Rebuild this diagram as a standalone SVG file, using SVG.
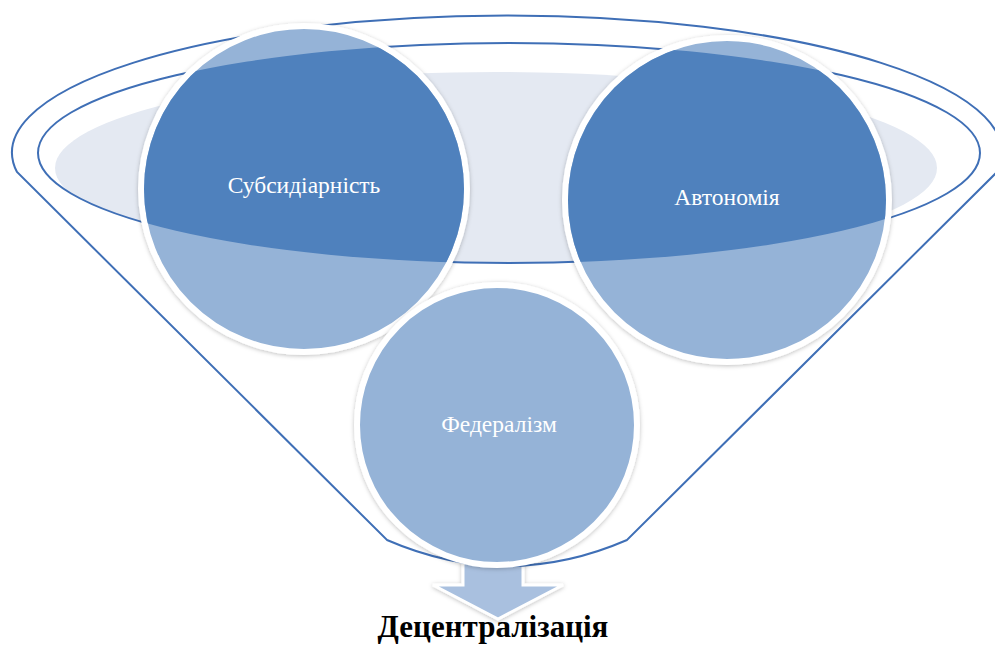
<svg xmlns="http://www.w3.org/2000/svg" width="995" height="646" viewBox="0 0 995 646">
  <defs>
    <style>
      .line { fill: none; stroke: #3F6FB6; stroke-width: 2; }
      .lbl { font-family: "Liberation Serif", "Times New Roman", serif; font-size: 23.5px; fill: #FFFFFF; text-anchor: middle; }
      .title { font-family: "Liberation Serif", "Times New Roman", serif; font-size: 31px; font-weight: bold; fill: #000000; text-anchor: middle; }
      .light { fill: #95B3D7; stroke: #FFFFFF; stroke-width: 6; }
      .dark { fill: #4F81BD; }
    </style>
    <filter id="sh" x="-20%" y="-20%" width="140%" height="140%">
      <feDropShadow dx="0" dy="1" stdDeviation="2" flood-color="#000" flood-opacity="0.25"/>
    </filter>
    <clipPath id="inner">
      <ellipse cx="509" cy="153" rx="471" ry="110"/>
    </clipPath>
  </defs>

  <g id="arrow">
    <polygon points="463,555 523,555 523,585 563,585 498,619 433,585 463,585" fill="#A9C0DF" stroke="#FFFFFF" stroke-width="3" filter="url(#sh)"/>
  </g>

  <g id="funnel">
    <path d="M 17,172 A 495,137 0 1 1 997,172 L 627,540 Q 507,592 387,540 Z" fill="#FFFFFF" stroke="#3F6FB6" stroke-width="2"/>
    <ellipse cx="496" cy="168" rx="441" ry="96" fill="#E4E9F2" clip-path="url(#inner)"/>
    <ellipse class="line" cx="509" cy="153" rx="471" ry="110"/>
  </g>

  <g id="node-subsydiarnist">
    <circle class="light" cx="304" cy="189" r="163" filter="url(#sh)"/>
    <circle class="dark" cx="304" cy="189" r="160" clip-path="url(#inner)"/>
    <text class="lbl" x="304" y="193">Субсидіарність</text>
  </g>

  <g id="node-avtonomiia">
    <circle class="light" cx="727" cy="200" r="162" filter="url(#sh)"/>
    <circle class="dark" cx="727" cy="200" r="159" clip-path="url(#inner)"/>
    <text class="lbl" x="727" y="205">Автономія</text>
  </g>

  <g id="node-federalizm">
    <circle class="light" cx="497" cy="425" r="140" filter="url(#sh)"/>
    <text class="lbl" x="499" y="432">Федералізм</text>
  </g>

  <g id="connectors"></g>

  <g id="title">
    <text class="title" x="493" y="637">Децентралізація</text>
  </g>
</svg>
